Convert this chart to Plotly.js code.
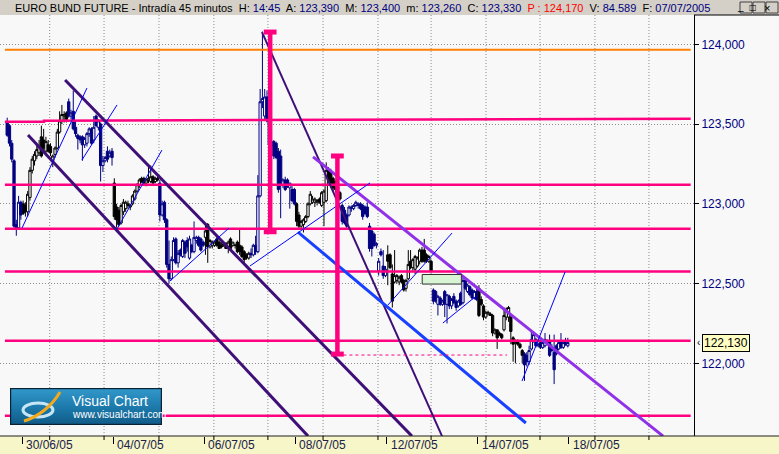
<!DOCTYPE html>
<html>
<head>
<meta charset="utf-8">
<script src="https://cdn.plot.ly/plotly-3.0.1.min.js"></script>
<style>
html,body{margin:0;padding:0;background:#f8f8f8;overflow:hidden;}
#chart{width:779px;height:454px;}
</style>
</head>
<body>
<div id="chart"></div>
<script>
// ================= DATA =================
const headerLabel = 'EURO BUND FUTURE - Intradía 45 minutos';
const headerFields = [['H:', '14:45'], ['A:', '123,390'], ['M:', '123,400'], ['m:', '123,260'], ['C:', '123,330'], ['P :', '124,170'], ['V:', '84.589'], ['F:', '07/07/2005']];

const dayLabels = ['30/06/05', '04/07/05', '06/07/05', '08/07/05', '12/07/05', '14/07/05', '18/07/05'];
const dayStartBars = [6.5, 46.5, 86.5, 126.5, 166.5, 206.5, 246.5];
const barsFirstSession = 7;
const barsPerSession = 20;

const open = [
123.51,123.49,123.38,123.27,122.87,122.85,123.01,
123.00,122.99,122.95,123.04,123.21,123.27,123.30,123.32,123.42,123.40,123.33,123.37,123.36,123.27,123.31,123.35,123.45,123.52,123.55,123.57,
123.64,123.55,123.58,123.48,123.43,123.42,123.42,123.37,123.38,123.44,123.47,123.40,123.55,123.48,123.50,123.24,123.27,123.33,123.30,123.33,
123.13,122.98,122.96,122.88,122.95,122.97,122.99,122.98,123.00,123.03,123.08,123.12,123.16,123.16,123.13,123.15,123.14,123.17,123.14,123.16,
123.13,122.93,123.01,122.90,122.62,122.53,122.65,122.78,122.63,122.71,122.67,122.76,122.77,122.66,122.74,122.70,122.77,122.79,122.78,122.76,
122.79,122.87,122.73,122.74,122.74,122.78,122.76,122.74,122.74,122.75,122.73,122.78,122.74,122.74,122.76,122.74,122.73,122.70,122.68,122.66,
122.69,122.68,122.74,122.70,123.05,123.64,123.55,123.67,123.52,123.36,123.39,123.38,123.33,123.30,123.12,123.15,123.15,123.10,123.09,123.09,
123.00,122.93,122.86,122.87,122.89,122.92,123.00,123.01,123.01,123.01,123.03,122.99,123.01,123.02,123.21,123.20,123.16,123.14,123.11,123.07,
122.99,122.96,122.93,122.93,122.97,122.97,122.99,122.99,123.00,122.99,122.98,122.98,122.86,122.83,122.81,122.74,122.58,122.70,122.61,122.55,
122.68,122.68,122.56,122.51,122.52,122.51,122.55,122.52,122.47,122.53,122.64,122.60,122.59,122.61,122.64,122.71,122.71,122.68,122.64,122.64,
122.46,122.45,122.37,122.41,122.37,122.45,122.37,122.42,122.36,122.42,122.39,122.36,122.44,122.38,122.52,122.45,122.48,122.46,122.41,122.45,
122.47,122.40,122.36,122.29,122.31,122.31,122.30,122.19,122.21,122.19,122.18,122.21,122.29,122.29,122.29,122.16,122.13,122.14,122.12,122.08,
122.06,122.05,122.01,122.09,122.14,122.15,122.11,122.13,122.10,122.11,122.14,122.14,122.10,122.07,122.11,122.09,122.14,122.10,122.14,122.11
];
const high = [
123.54,123.50,123.40,123.28,122.90,123.05,123.02,
123.02,123.01,123.08,123.23,123.30,123.33,123.37,123.40,123.49,123.47,123.42,123.40,123.38,123.31,123.36,123.47,123.58,123.62,123.58,123.58,
123.66,123.59,123.71,123.52,123.44,123.43,123.43,123.42,123.45,123.48,123.48,123.55,123.56,123.53,123.51,123.30,123.30,123.36,123.34,123.35,
123.16,123.00,122.98,123.00,123.03,123.02,123.02,123.00,123.06,123.09,123.13,123.16,123.17,123.17,123.16,123.24,123.24,123.18,123.17,123.18,
123.15,123.02,123.02,122.91,122.77,122.67,122.79,122.79,122.71,122.72,122.78,122.77,122.79,122.80,122.75,122.89,122.80,122.80,122.79,122.77,
122.88,122.88,122.78,122.77,122.77,122.80,122.77,122.76,122.76,122.76,122.77,122.79,122.76,122.75,122.77,122.84,122.74,122.71,122.69,122.70,
122.72,122.75,122.80,123.18,123.72,124.08,123.72,123.71,123.55,123.40,123.40,123.39,123.35,123.34,123.16,123.17,123.16,123.13,123.11,123.10,
123.01,122.95,122.90,122.91,122.93,123.01,123.08,123.05,123.04,123.03,123.04,123.08,123.09,123.26,123.23,123.22,123.17,123.15,123.12,123.08,
123.00,122.98,122.94,122.99,122.99,123.00,123.02,123.01,123.01,123.00,122.99,123.01,122.88,122.85,122.82,122.76,122.66,122.72,122.71,122.61,
122.74,122.69,122.62,122.71,122.56,122.55,122.56,122.53,122.53,122.71,122.71,122.66,122.68,122.67,122.72,122.73,122.78,122.69,122.68,122.65,
122.47,122.46,122.43,122.42,122.40,122.46,122.43,122.43,122.41,122.44,122.40,122.40,122.45,122.55,122.53,122.50,122.49,122.47,122.46,122.47,
122.49,122.42,122.37,122.33,122.33,122.32,122.31,122.22,122.21,122.20,122.19,122.35,122.35,122.36,122.31,122.17,122.15,122.15,122.13,122.09,
122.07,122.07,122.11,122.20,122.20,122.16,122.13,122.14,122.14,122.19,122.15,122.18,122.12,122.18,122.12,122.14,122.19,122.14,122.16,122.16
];
const low = [
123.42,123.36,123.26,122.85,122.80,122.84,122.90,
122.93,122.92,122.92,123.02,123.19,123.24,123.28,123.30,123.29,123.33,123.31,123.32,123.30,123.23,123.29,123.34,123.44,123.50,123.51,123.51,
123.54,123.53,123.46,123.42,123.34,123.38,123.27,123.35,123.36,123.42,123.37,123.38,123.48,123.46,123.14,123.20,123.26,123.26,123.29,123.24,
122.90,122.85,122.86,122.87,122.93,122.95,122.97,122.96,122.99,123.02,123.07,123.10,123.13,123.12,123.11,123.13,123.13,123.12,123.13,123.14,
122.89,122.92,122.88,122.60,122.50,122.52,122.64,122.62,122.60,122.67,122.66,122.66,122.70,122.65,122.69,122.69,122.75,122.73,122.70,122.73,
122.68,122.63,122.72,122.72,122.73,122.73,122.72,122.72,122.73,122.72,122.69,122.71,122.73,122.72,122.69,122.68,122.66,122.62,122.65,122.65,
122.66,122.67,122.68,122.69,123.04,123.60,123.52,123.51,123.36,123.34,123.28,123.28,123.07,122.91,123.10,123.08,123.10,122.97,123.01,122.99,
122.86,122.84,122.84,122.82,122.88,122.91,122.99,123.00,122.98,122.99,123.00,122.98,122.86,123.01,123.14,123.10,123.08,123.07,123.05,123.02,
122.87,122.87,122.84,122.92,122.95,122.96,122.98,122.97,122.96,122.90,122.93,122.91,122.70,122.67,122.73,122.72,122.55,122.67,122.53,122.54,
122.49,122.59,122.35,122.50,122.50,122.49,122.50,122.45,122.45,122.52,122.59,122.58,122.56,122.60,122.62,122.63,122.63,122.63,122.63,122.57,
122.37,122.38,122.30,122.36,122.36,122.29,122.25,122.34,122.34,122.37,122.33,122.35,122.36,122.37,122.46,122.44,122.42,122.40,122.40,122.39,
122.29,122.36,122.27,122.28,122.30,122.30,122.17,122.18,122.09,122.17,122.15,122.20,122.27,122.26,122.12,122.01,122.00,122.11,122.09,122.00,
121.89,121.98,121.99,122.08,122.13,122.10,122.10,122.09,122.09,122.10,122.12,122.04,122.07,121.87,122.05,122.08,122.09,122.09,122.11,122.10
];
const close = [
123.43,123.38,123.28,122.86,122.85,123.01,122.93,
122.94,122.95,123.06,123.21,123.28,123.31,123.34,123.36,123.30,123.35,123.39,123.33,123.32,123.30,123.35,123.45,123.52,123.56,123.56,123.53,
123.55,123.57,123.47,123.44,123.41,123.40,123.37,123.41,123.44,123.47,123.38,123.48,123.49,123.52,123.24,123.27,123.29,123.28,123.32,123.29,
122.92,122.90,122.87,122.99,123.01,123.01,123.00,122.99,123.05,123.08,123.12,123.15,123.14,123.13,123.15,123.16,123.17,123.13,123.16,123.15,
122.93,123.00,122.90,122.62,122.53,122.65,122.77,122.63,122.69,122.68,122.77,122.69,122.73,122.78,122.70,122.79,122.79,122.74,122.71,122.74,
122.83,122.73,122.77,122.76,122.76,122.74,122.72,122.73,122.75,122.72,122.76,122.72,122.76,122.74,122.70,122.70,122.67,122.65,122.66,122.69,
122.68,122.74,122.70,123.05,123.64,123.66,123.67,123.52,123.37,123.39,123.30,123.29,123.09,123.12,123.15,123.09,123.11,123.13,123.02,123.00,
122.89,122.86,122.89,122.90,122.92,123.00,123.06,123.03,123.03,123.02,123.01,123.07,123.08,123.21,123.15,123.12,123.10,123.09,123.06,123.03,
122.89,122.88,122.86,122.98,122.98,122.99,123.01,123.00,122.97,122.92,122.94,122.92,122.72,122.72,122.74,122.75,122.64,122.68,122.55,122.59,
122.64,122.60,122.39,122.55,122.55,122.54,122.51,122.46,122.52,122.62,122.60,122.65,122.67,122.66,122.71,122.64,122.64,122.64,122.67,122.58,
122.39,122.39,122.42,122.37,122.39,122.37,122.43,122.36,122.40,122.38,122.35,122.39,122.37,122.52,122.47,122.49,122.43,122.41,122.45,122.40,
122.30,122.37,122.29,122.32,122.32,122.30,122.19,122.21,122.16,122.18,122.16,122.30,122.34,122.35,122.20,122.12,122.14,122.12,122.10,122.05,
121.99,122.01,122.08,122.15,122.18,122.11,122.12,122.10,122.13,122.15,122.13,122.05,122.08,121.96,122.06,122.13,122.10,122.13,122.12,122.13
];

const yTickVals = [122.0, 122.5, 123.0, 123.5, 124.0];
const yTickText = ['122,000', '122,500', '123,000', '123,500', '124,000'];
const gridBars = [18.65, 42.5, 66.6, 90.7, 114.4, 138.6, 162.7, 186.0, 210.1, 233.8, 257.9, 281.6];

// drawn studies (bar index, price)
const levelSpan = [-1.0, 299.9];
const orangeLevel = 123.966;
const pinkLevels = [123.120, 122.844, 122.575, 122.142, 121.672];
const pinkStepX = [-1.0, 16.15, 16.15, 299.9];
const pinkStepY = [123.515, 123.515, 123.521, 123.534];
const darkChannels = [[25.4, 123.776, 177.6, 121.544], [9.13, 123.432, 132.0, 121.544]];
const steepLine = [111.8, 124.077, 190.8, 121.544];
const violetLine = [134.2, 123.294, 287.8, 121.544];
const blueLine = [127.6, 122.823, 227.6, 121.626];
const thinBlueLines = [
  [6.5, 122.848, 35.0, 123.726], [32.8, 123.275, 48.2, 123.620], [48.2, 122.842, 67.9, 123.337],
  [71.4, 122.516, 97.3, 122.848], [106.5, 122.610, 159.2, 123.131], [167.1, 122.366, 195.2, 122.817],
  [191.2, 122.253, 205.3, 122.416], [225.9, 121.889, 244.8, 122.573]
];
const rangeBars = [[115.4, 124.077, 122.825], [144.9, 123.300, 122.058]];
const dashedLevel = [144.9, 219.3, 122.052];
const greenBox = [182.1, 199.3, 122.497, 122.557];
const lastPrice = 122.13;
const lastPriceText = '122,130';

// ================= CHART =================
const FONT = 'Liberation Sans, Arial, sans-serif';
const W = 779, H = 454, mL = 0, mR = 85, mT = 15, mB = 18;
const PW = W - mL - mR, PH = H - mT - mB;
const pxX = p => (p - mL) / PW;
const pxY = p => (H - mB - p) / PH;

const traces = [];
const isNavy = i => i < barsFirstSession ? true : (Math.floor((i - barsFirstSession) / barsPerSession) % 2 === 1);
function candleTrace(sel, color) {
  const ids = open.map((_, i) => i).filter(sel);
  return {
    type: 'candlestick', x: ids,
    open: ids.map(i => open[i]), high: ids.map(i => high[i]),
    low: ids.map(i => low[i]), close: ids.map(i => close[i]),
    increasing: {line: {color: color, width: 1}, fillcolor: '#ffffff'},
    decreasing: {line: {color: color, width: 1}, fillcolor: color},
    whiskerwidth: 0, hoverinfo: 'skip', showlegend: false
  };
}
traces.push(candleTrace(i => !isNavy(i), '#000000'));
traces.push(candleTrace(isNavy, '#000080'));

function line(xs, ys, color, width, dash) {
  traces.push({type: 'scatter', mode: 'lines', x: xs, y: ys,
    line: {color: color, width: width, dash: dash || 'solid'},
    hoverinfo: 'skip', showlegend: false});
}
const PINK = '#ff0080';
line(levelSpan, [orangeLevel, orangeLevel], '#ff8000', 2);
line(pinkStepX, pinkStepY, PINK, 2.5);
pinkLevels.forEach(v => line(levelSpan, [v, v], PINK, 2.5));
darkChannels.forEach(s => line([s[0], s[2]], [s[1], s[3]], '#3f0f78', 3));
line([steepLine[0], steepLine[2]], [steepLine[1], steepLine[3]], '#3f0f78', 2);
line([violetLine[0], violetLine[2]], [violetLine[1], violetLine[3]], '#9030e8', 3);
line([blueLine[0], blueLine[2]], [blueLine[1], blueLine[3]], '#1840ff', 3);
thinBlueLines.forEach(s => line([s[0], s[2]], [s[1], s[3]], '#0000ff', 1));
line([dashedLevel[0], dashedLevel[1]], [dashedLevel[2], dashedLevel[2]], PINK, 1, '3px,3px');
traces.push({type: 'scatter', mode: 'lines', fill: 'toself', fillcolor: '#d8f4d4',
  x: [greenBox[0], greenBox[1], greenBox[1], greenBox[0], greenBox[0]],
  y: [greenBox[2], greenBox[2], greenBox[3], greenBox[3], greenBox[2]],
  line: {color: '#303030', width: 1}, hoverinfo: 'skip', showlegend: false});
rangeBars.forEach(r => {
  line([r[0], r[0]], [r[1], r[2]], PINK, 4.5);
  line([r[0] - 2.8, r[0] + 2.8], [r[1], r[1]], PINK, 5);
  line([r[0] - 2.8, r[0] + 2.8], [r[2], r[2]], PINK, 5);
});

// ---- decorations ----
const shapes = [
  {type: 'rect', xref: 'paper', yref: 'paper', x0: pxX(0), x1: pxX(W), y0: pxY(15), y1: pxY(0),
   fillcolor: '#d4d0c8', line: {width: 0}, layer: 'below'},
  {type: 'rect', xref: 'paper', yref: 'paper', x0: pxX(0), x1: pxX(W), y0: pxY(H), y1: pxY(436),
   fillcolor: '#f6f6c8', line: {width: 0}, layer: 'below'},
  {type: 'line', xref: 'paper', yref: 'paper', x0: pxX(694), x1: pxX(W), y0: pxY(15), y1: pxY(15),
   line: {color: '#000000', width: 1}},
  {type: 'line', xref: 'paper', yref: 'paper', x0: pxX(0), x1: pxX(W), y0: pxY(436), y1: pxY(436),
   line: {color: '#202020', width: 1}}
];
gridBars.forEach(g => {
  shapes.push({type: 'line', xref: 'x', yref: 'paper', x0: g, x1: g, y0: 0, y1: 1,
    line: {color: '#8c8c8c', width: 1, dash: '1px,2px'}, layer: 'below'});
  shapes.push({type: 'line', xref: 'x', yref: 'paper', x0: g, x1: g, y0: 0, y1: -4 / PH,
    line: {color: '#000000', width: 1}});
});
[[740, 752], [753, 765], [766, 778]].forEach(b => {
  shapes.push({type: 'rect', xref: 'paper', yref: 'paper', x0: pxX(b[0]), x1: pxX(b[1]), y0: pxY(13), y1: pxY(2),
    fillcolor: '#d4d0c8', line: {color: '#404040', width: 1}});
});

let headerHtml = headerLabel;
headerFields.forEach(f => {
  if (f[0] === 'P :') headerHtml += '  <span style="color:#ff0000">' + f[0] + ' ' + f[1] + '</span>';
  else headerHtml += '  ' + f[0] + ' <span style="color:#000080">' + f[1] + '</span>';
});

const annotations = [
  {xref: 'paper', yref: 'paper', x: pxX(13), y: pxY(7.5), xanchor: 'left', yanchor: 'middle',
   text: headerHtml, showarrow: false, font: {family: FONT, size: 11, color: '#000000'}},
  {xref: 'paper', yref: 'y', x: pxX(702), y: lastPrice, xanchor: 'left', yanchor: 'middle',
   text: lastPriceText, showarrow: false, bgcolor: '#ffffc4', bordercolor: '#000000', borderwidth: 1, borderpad: 1,
   font: {family: FONT, size: 12, color: '#000000'}},
  {xref: 'paper', yref: 'y', x: pxX(695), y: lastPrice, xanchor: 'left', yanchor: 'middle',
   text: '‹', showarrow: false, font: {family: FONT, size: 10, color: '#000000'}},
  {xref: 'paper', yref: 'paper', x: pxX(70), y: pxY(401), xanchor: 'left', yanchor: 'middle',
   text: 'Visual Chart', showarrow: false, font: {family: FONT, size: 14, color: '#ffffff'}},
  {xref: 'paper', yref: 'paper', x: pxX(70), y: pxY(414.5), xanchor: 'left', yanchor: 'middle',
   text: 'www.visualchart.com', showarrow: false, font: {family: FONT, size: 10, color: '#ffffff'}},
  {xref: 'paper', yref: 'paper', x: pxX(746), y: pxY(7), text: '_', showarrow: false, yanchor: 'middle',
   font: {family: FONT, size: 10, color: '#000000'}},
  {xref: 'paper', yref: 'paper', x: pxX(759), y: pxY(7.5), text: '□', showarrow: false, yanchor: 'middle',
   font: {family: 'DejaVu Sans', size: 8, color: '#000000'}},
  {xref: 'paper', yref: 'paper', x: pxX(772), y: pxY(7.5), text: '×', showarrow: false, yanchor: 'middle',
   font: {family: FONT, size: 11, color: '#000000'}}
];
dayLabels.forEach((t, k) => annotations.push({
  xref: 'x', yref: 'paper', x: dayStartBars[k], y: pxY(445), xanchor: 'left', yanchor: 'middle', xshift: 2,
  text: t, showarrow: false, font: {family: FONT, size: 12, color: '#202048'}
}));

const logoSvg = "<svg xmlns='http://www.w3.org/2000/svg' width='152' height='37' viewBox='0 0 152 37'>" +
  "<defs><linearGradient id='g' x1='0' y1='0' x2='0' y2='1'><stop offset='0' stop-color='#3398cb'/>" +
  "<stop offset='0.55' stop-color='#1b78a9'/><stop offset='1' stop-color='#115b88'/></linearGradient></defs>" +
  "<rect x='0.6' y='0.6' width='150.8' height='35.8' fill='url(#g)' stroke='#0a2236' stroke-width='1.2'/>" +
  "<ellipse cx='28' cy='22' rx='15' ry='7' fill='none' stroke='#c6e6f8' stroke-width='3'/>" +
  "<path d='M14 33 C28 29 42 18 50 4' fill='none' stroke='#f3a91e' stroke-width='3'/></svg>";

const layout = {
  width: W, height: H,
  margin: {l: mL, r: mR, t: mT, b: mB, pad: 0},
  paper_bgcolor: '#f8f8f8', plot_bgcolor: '#f8f8f8',
  showlegend: false, dragmode: false,
  boxgap: 0, boxgroupgap: 0,
  font: {family: FONT, size: 12, color: '#000000'},
  xaxis: {type: 'linear', range: [-3.155, 301.37], showgrid: false, zeroline: false, showline: false,
    ticks: 'outside', ticklen: 7, tickcolor: '#000000', tickvals: dayStartBars, showticklabels: false,
    rangeslider: {visible: false}, fixedrange: true},
  yaxis: {side: 'right', range: [121.5444, 124.1839], tickvals: yTickVals, ticktext: yTickText,
    ticks: 'outside', ticklen: 4, tickcolor: '#000000', showline: true, linecolor: '#000000', linewidth: 1,
    showgrid: true, gridcolor: '#8c8c8c', griddash: '1px,2px', gridwidth: 1, zeroline: false,
    tickfont: {family: FONT, size: 12, color: '#000080'}, fixedrange: true},
  shapes: shapes,
  annotations: annotations,
  images: [{source: 'data:image/svg+xml;charset=utf-8,' + encodeURIComponent(logoSvg),
    xref: 'paper', yref: 'paper', x: pxX(10), y: pxY(388), sizex: 152 / PW, sizey: 37 / PH,
    xanchor: 'left', yanchor: 'top', sizing: 'stretch', layer: 'above'}]
};

Plotly.newPlot('chart', traces, layout, {staticPlot: true, displayModeBar: false});
</script>
</body>
</html>
